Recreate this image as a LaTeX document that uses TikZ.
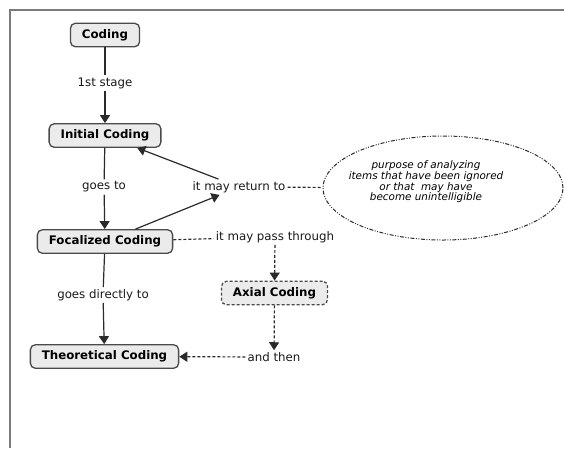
\documentclass[tikz,border=0pt]{standalone}
\usepackage{fontspec}
\setmainfont{DejaVu Sans}
\usetikzlibrary{arrows.meta,shapes.geometric}
\definecolor{boxfill}{HTML}{EBEBEB}
\definecolor{boxline}{HTML}{4A4A4A}
\definecolor{linkcol}{HTML}{2A2A2A}
\definecolor{framecol}{HTML}{7A7A7A}

\begin{document}
\begin{tikzpicture}[x=1pt,y=-1pt,
  concept/.style={draw=boxline, fill=boxfill, rounded corners=5pt, line width=1.3pt,
    font=\fontsize{11.8}{14}\selectfont\bfseries, inner xsep=11.5pt, minimum height=23.5pt, text=black},
  linklabel/.style={font=\fontsize{11.8}{14}\selectfont, text=black!90, inner sep=2pt},
  link/.style={draw=linkcol, line width=1.2pt},
  arrowed/.style={-{Triangle[width=10pt,length=8pt]}},
  dashedlink/.style={dash pattern=on 3pt off 2pt},
]
\useasboundingbox (0,0) rectangle (564,448);

% frame
\draw[framecol, line width=1.2pt] (10,448) -- (10,10) -- (564,10);

% concepts
\node[concept] (coding) at (105,35) {Coding};
\node[concept] (initial) at (105,135.5) {Initial Coding};
\node[concept] (focal) at (105,241.5) {Focalized Coding};
\node[concept, dashedlink] (axial) at (274.5,293) {Axial Coding};
\node[concept] (theo) at (104.5,356.5) {Theoretical Coding};

% linking phrases
\node[linklabel] (stage) at (105,83) {1st stage};
\node[linklabel] (goesto) at (104,187) {goes to};
\node[linklabel] (ret) at (239,187) {it may return to};
\node[linklabel] (pass) at (275,237) {it may pass through};
\node[linklabel] (direct) at (103,295) {goes directly to};
\node[linklabel] (then) at (274,357) {and then};

% note ellipse
\node[ellipse, draw=linkcol, line width=1pt,
  dash pattern=on 4pt off 1.5pt on 1pt off 1.5pt on 1pt off 1.5pt,
  minimum width=240pt, minimum height=104pt] (purpose) at (443,188) {};
\node[font=\fontsize{10.4}{10.6}\selectfont\itshape, align=center, text=black]
  (purposetext) at (426,182)
  {purpose of analyzing\\items that have been ignored\\or that\ \ may have\\become unintelligible};

% connectors
\draw[link] (coding) -- (stage);
\draw[link,arrowed] (stage) -- (initial);
\draw[link] (initial) -- (goesto);
\draw[link,arrowed] (goesto) -- (focal);
\draw[link,arrowed] (focal) -- (ret);
\draw[link,arrowed] (ret) -- (initial);
\draw[link,dashedlink] (ret) -- (purpose);
\draw[link,dashedlink] (focal) -- (pass);
\draw[link,dashedlink,arrowed] (pass) -- (axial);
\draw[link,dashedlink,arrowed] (axial) -- (then);
\draw[link,dashedlink,arrowed] (then) -- (theo);
\draw[link] (focal) -- (direct);
\draw[link,arrowed] (direct) -- (theo);
\end{tikzpicture}
\end{document}
